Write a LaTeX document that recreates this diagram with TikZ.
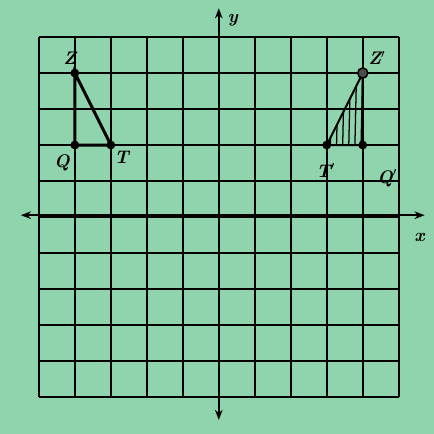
\documentclass[tikz,border=0pt]{standalone}
\usepackage{tikz}
\usetikzlibrary{arrows.meta}
\usetikzlibrary{calc}
\definecolor{paper}{RGB}{143,212,172}

\begin{document}
\begin{tikzpicture}[scale=1,
	grid line/.style={line width=1.3pt},
	axis line/.style={line width=1.7pt,{Stealth[length=8pt,width=6pt]}-{Stealth[length=8pt,width=6pt]}},
	side/.style={line width=2.4pt,line cap=round},
	dot/.style={circle,fill=black,inner sep=0pt,minimum size=7pt},
	mark label/.style={font=\Large\bfseries\itshape}]

		\fill [paper] (-6.08,-6.03) rectangle (5.97,6.03);
		\useasboundingbox (-6.08,-6.03) rectangle (5.97,6.03);

		\coordinate (Z) at (-4,4) ;
		\coordinate (Q) at (-4,2) ;
		\coordinate (T) at (-3,2) ;
		\coordinate (Z1) at (4,4) ;
		\coordinate (T1) at (3,2) ;
		\coordinate (R1) at (4,2) ;

		% grid
		\foreach \k in {-5,...,5} {
			\draw [grid line] (\k,-5)--(\k,5);
			\draw [grid line] (-5,\k)--(5,\k);
		}

		% axes
		\draw [axis line] (-5.5,0.05)--(5.72,0.05) ;
		\draw [axis line] (0,-5.64)--(0,5.8) ;
		\node [mark label] (ylab) at (0.39,5.47) {y};
		\node [mark label] (xlab) at (5.58,-0.56) {x};

		% original triangle
		\draw [side] (Q)--(Z)--(T)--(Q);
		\node [dot] at (Z) {};
		\node [dot] at (Q) {};
		\node [dot] at (T) {};
		\node [mark label] (Zlab) at (-4.14,4.42) {Z};
		\node [mark label] (Qlab) at (-4.36,1.5) {Q};
		\node [mark label] (Tlab) at (-2.7,1.67) {T};

		% image triangle, hatched
		\begin{scope}
			\clip (T1)--(Z1)--(R1)--cycle;
			\foreach \h in {3.1,3.27,...,4} \draw [line width=1pt] (\h,1.9)--(\h+0.05,4.1);
		\end{scope}
		\draw [line width=1.6pt] (T1)--(Z1)--(R1)--(T1);
		\node [dot] at (T1) {};
		\node [dot] at (R1) {};
		\node [circle,draw,line width=1.2pt,fill=black!70,inner sep=0pt,minimum size=8pt] at (Z1) {};
		\node [mark label] (Z1lab) at (4.39,4.42) {Z$'$};
		\node [mark label] (T1lab) at (2.97,1.3) {T$'$};
		\node [mark label] (Q1lab) at (4.68,1.08) {Q$'$};
\end{tikzpicture}
\end{document}
